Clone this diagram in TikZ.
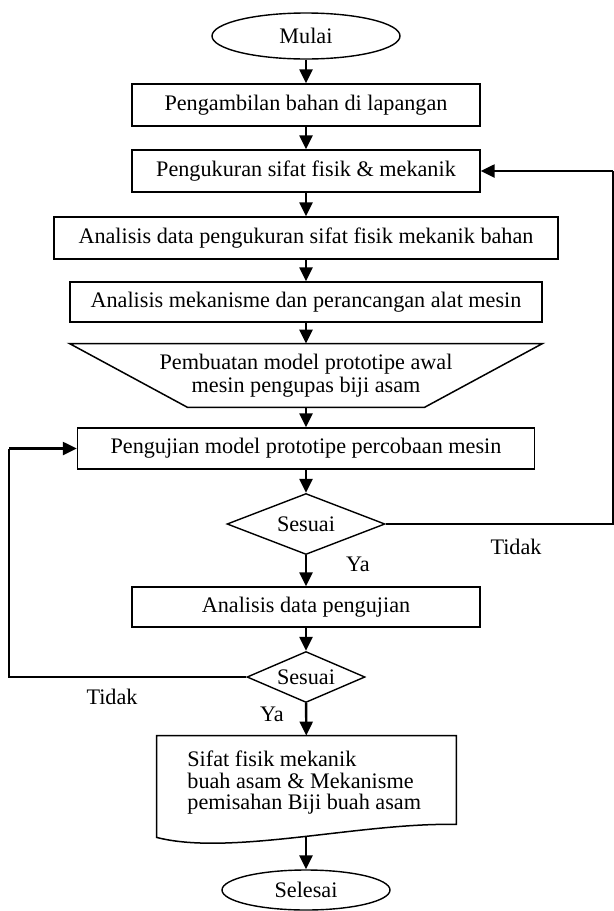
\documentclass[tikz,border=0pt]{standalone}
\usepackage{fontspec}
\setmainfont{Liberation Serif}
\usetikzlibrary{shapes.geometric,arrows.meta}
\tikzstyle{prosesbox} = [draw=black, line width=0.7pt, rectangle,
    minimum height=21pt, inner sep=0pt]
\tikzstyle{terminal} = [draw=black, line width=0.7pt, ellipse, inner sep=0pt]
\tikzstyle{keputusan} = [draw=black, line width=0.7pt, diamond, aspect=2.5, inner sep=0pt]
\tikzstyle{panah} = [line width=1.2pt, -{Triangle[length=7pt,width=6.5pt]}]
\tikzstyle{garis} = [line width=0.75pt]
\tikzstyle{ket} = [inner sep=0pt]

\begin{document}
\begin{tikzpicture}[x=0.5pt, y=-0.5pt, font=\fontsize{11.1}{11.5}\selectfont]
\useasboundingbox (0,0) rectangle (614,911);
\node[terminal, minimum width=94pt, minimum height=23pt] (mulai) at (306,36) {Mulai};
\node[prosesbox, minimum width=174pt] (ambil) at (306,105) {Pengambilan bahan di lapangan};
\node[prosesbox, minimum width=174pt] (ukur) at (306,171) {Pengukuran sifat fisik \& mekanik};
\node[prosesbox, minimum width=252pt] (analisis) at (306,238) {Analisis data pengukuran sifat fisik mekanik bahan};
\node[prosesbox, minimum width=236pt, minimum height=20pt] (rancang) at (306,302) {Analisis mekanisme dan perancangan alat mesin};
\node[minimum width=236pt, minimum height=31.5pt, inner sep=0pt, align=center] (model) at (306,375.5)
    {Pembuatan model prototipe awal\\mesin pengupas biji asam};
\draw[garis] (model.north west) -- (model.north east) -- ([xshift=-59pt]model.south east)
    -- ([xshift=59pt]model.south west) -- cycle;
\node[prosesbox, minimum width=228.5pt, minimum height=20.5pt] (uji) at (306,448.5) {Pengujian model prototipe percobaan mesin};
\node[keputusan, minimum width=79pt, minimum height=30.5pt] (sesuai1) at (306,524) {Sesuai};
\node[prosesbox, minimum width=174pt, minimum height=20pt] (analisisuji) at (306,607) {Analisis data pengujian};
\node[keputusan, minimum width=59pt, minimum height=25.5pt] (sesuai2) at (306,677) {Sesuai};
\node[minimum width=149.5pt, minimum height=44pt, inner sep=0pt] (hasil) at (306.5,780) {};
\node[anchor=west, inner sep=0pt, align=left, font=\fontsize{11.1}{10.75}\selectfont] (hasilteks) at (187,783)
    {Sifat fisik mekanik\\buah asam \& Mekanisme\\pemisahan Biji buah asam};
\draw[garis] (hasil.north west) -- (hasil.north east) -- (hasil.south east)
    .. controls ([xshift=26.75pt,yshift=1pt]hasil.south) and ([xshift=-38.25pt,yshift=-16pt]hasil.south)
    .. ([yshift=-6.5pt]hasil.south west) -- cycle;
\coordinate (hasilbawah) at (306,837);
\node[terminal, minimum width=84pt, minimum height=20pt] (selesai) at (306,890) {Selesai};

\draw[panah] (mulai) -- (ambil);
\draw[panah] (ambil) -- (ukur);
\draw[panah] (ukur) -- (analisis);
\draw[panah] (analisis) -- (rancang);
\draw[panah] (rancang) -- (model.north);
\draw[panah] (model.south) -- (uji);
\draw[panah] (uji) -- (sesuai1);
\draw[panah] (sesuai1) -- (analisisuji);
\draw[panah] (analisisuji) -- (sesuai2);
\draw[panah] (sesuai2) -- (hasil);
\draw[panah] (hasilbawah) -- (selesai);

\coordinate (kanan) at (613,171);
\draw[garis] (sesuai1.east) -| (kanan);
\draw[panah] (kanan) -- (ukur.east);
\coordinate (kiri) at (9,448.5);
\draw[garis] (sesuai2.west) -| (kiri);
\draw[panah] (kiri) -- (uji.west);

\node[ket] (tidak1) at (516,547) {Tidak};
\node[ket] (ya1) at (358,564) {Ya};
\node[ket] (tidak2) at (112,697) {Tidak};
\node[ket] (ya2) at (272,714) {Ya};
\end{tikzpicture}
\end{document}
